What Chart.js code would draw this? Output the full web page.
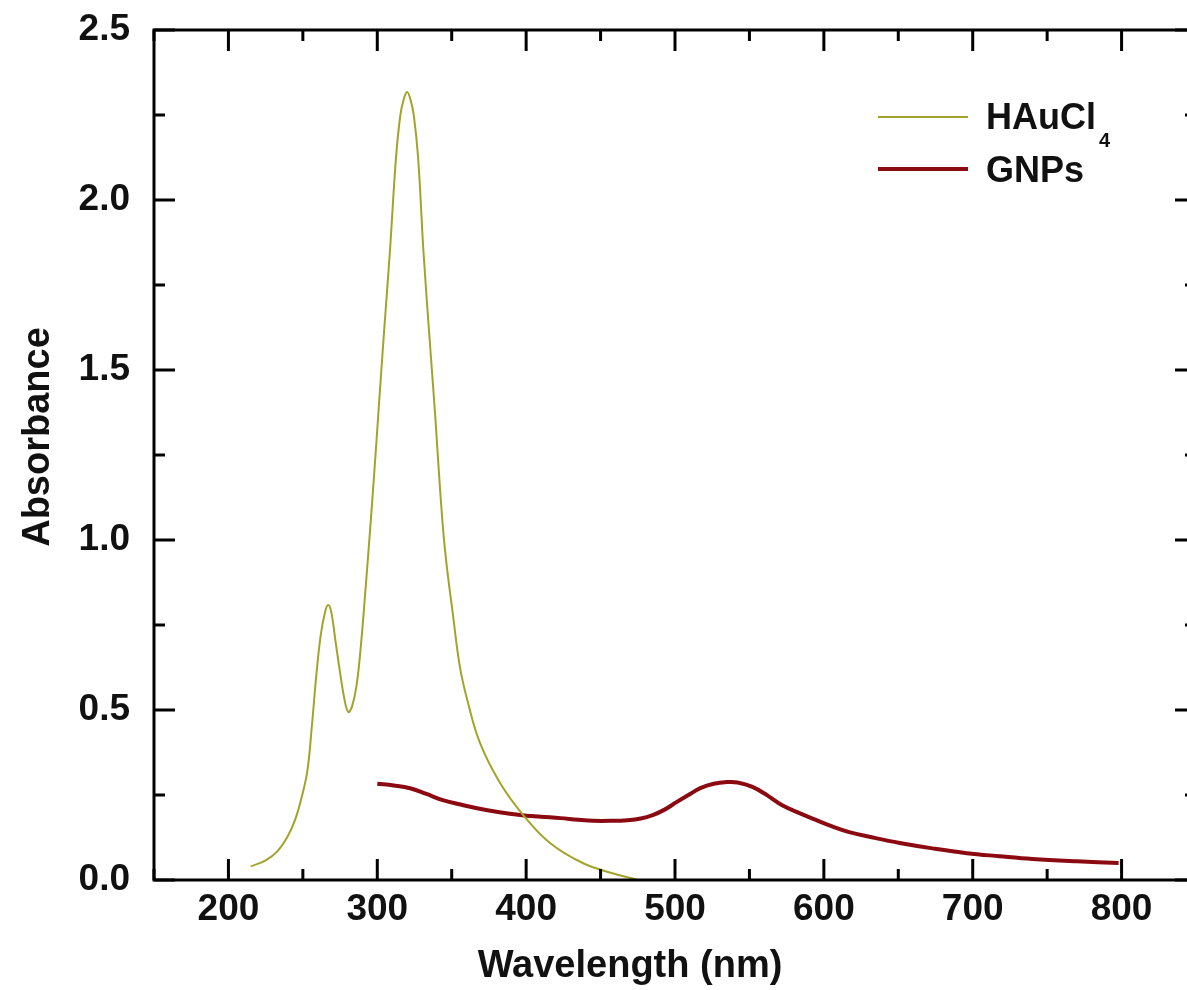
<!DOCTYPE html>
<html>
<head>
<meta charset="utf-8">
<script src="https://cdn.jsdelivr.net/npm/chart.js@4"></script>
<style>
  html, body { margin: 0; padding: 0; background: #fff; overflow: hidden; }
  #wrap { width: 1200px; height: 990px; }
</style>
</head>
<body>
<div id="wrap"><canvas id="spectrum" width="1200" height="990"></canvas></div>
<script>
// UV-vis spectra
const wavelengthHAuCl4 = [215, 225, 233, 240, 245, 249, 253, 256, 259, 262, 265, 267, 269, 272, 275, 278, 280.5, 283, 286, 289, 292, 295, 298, 301, 304.5, 308.5, 312.5, 315.5, 318, 320, 322, 324.5, 327.5, 331, 335, 339, 342, 345.5, 351, 355.5, 360.5, 369, 382.5, 398, 416, 438, 458, 475];
const absHAuCl4 = [0.040, 0.058, 0.085, 0.13, 0.18, 0.24, 0.32, 0.45, 0.60, 0.72, 0.79, 0.809, 0.79, 0.70, 0.61, 0.53, 0.494, 0.51, 0.57, 0.69, 0.85, 1.02, 1.20, 1.39, 1.61, 1.85, 2.12, 2.25, 2.30, 2.318, 2.30, 2.25, 2.12, 1.85, 1.60, 1.36, 1.16, 0.97, 0.774, 0.627, 0.529, 0.403, 0.285, 0.191, 0.109, 0.05, 0.02, 0.0];

const wavelengthGNPs = [300, 311, 322, 333, 344, 356, 367, 381, 396, 410, 423, 435, 445, 457, 468, 477, 485, 493, 501, 509, 517, 526, 535, 542, 552, 562, 572, 584, 595, 606, 617, 634, 651, 673, 696, 718, 740, 770, 798];
const absGNPs = [0.283, 0.278, 0.270, 0.253, 0.235, 0.222, 0.211, 0.200, 0.191, 0.186, 0.182, 0.177, 0.174, 0.174, 0.176, 0.181, 0.191, 0.207, 0.229, 0.250, 0.270, 0.283, 0.288, 0.287, 0.274, 0.249, 0.220, 0.196, 0.176, 0.157, 0.141, 0.124, 0.109, 0.093, 0.079, 0.070, 0.062, 0.055, 0.050];

const xTickLabels = [200, 300, 400, 500, 600, 700, 800];
const xMinorTicks = [150, 250, 350, 450, 550, 650, 750, 850];
const yTickLabels = [0, 0.5, 1.0, 1.5, 2.0, 2.5];
const yMinorTicks = [0.25, 0.75, 1.25, 1.75, 2.25];

const toPoints = (xs, ys) => xs.map((x, i) => ({ x: x, y: ys[i] }));

const colHAu = "#a3a32c";
const colGNP = "#8b0a12";
const fam = "'Liberation Sans', Arial, sans-serif";
const tickFont = { family: fam, size: 37, weight: "bold" };

// frame with inward ticks, axis titles and the legend
const framePlugin = {
  id: "frame",
  afterDraw(chart) {
    const ctx = chart.ctx;
    const a = chart.chartArea;
    const xs = chart.scales.x, ys = chart.scales.y;
    ctx.save();
    ctx.strokeStyle = "#000";
    ctx.lineWidth = 3;
    ctx.strokeRect(a.left, a.top, a.right - a.left, a.bottom - a.top);

    const tick = (x1, y1, x2, y2) => {
      ctx.beginPath(); ctx.moveTo(x1, y1); ctx.lineTo(x2, y2); ctx.stroke();
    };
    xTickLabels.forEach(v => {
      const p = xs.getPixelForValue(v);
      tick(p, a.bottom, p, a.bottom - 21);
      tick(p, a.top, p, a.top + 21);
    });
    xMinorTicks.forEach(v => {
      const p = xs.getPixelForValue(v);
      tick(p, a.bottom, p, a.bottom - 11);
      tick(p, a.top, p, a.top + 11);
    });
    yTickLabels.forEach(v => {
      const p = ys.getPixelForValue(v);
      tick(a.left, p, a.left + 21, p);
      tick(a.right, p, a.right - 21, p);
    });
    yMinorTicks.forEach(v => {
      const p = ys.getPixelForValue(v);
      tick(a.left, p, a.left + 11, p);
      tick(a.right, p, a.right - 11, p);
    });

    // axis titles
    ctx.fillStyle = "#111";
    ctx.font = "bold 38px " + fam;
    ctx.textAlign = "center";
    ctx.textBaseline = "middle";
    ctx.fillText("Wavelength (nm)", 630, 967);
    ctx.save();
    ctx.translate(39, 437);
    ctx.rotate(-Math.PI / 2);
    ctx.fillText("Absorbance", 0, 0);
    ctx.restore();

    // legend
    ctx.textAlign = "left";
    ctx.textBaseline = "alphabetic";
    ctx.lineWidth = 2;
    ctx.strokeStyle = colHAu;
    tick(878, 117, 968, 117);
    ctx.lineWidth = 4;
    ctx.strokeStyle = colGNP;
    tick(878, 169, 968, 169);
    ctx.font = "bold 36px " + fam;
    ctx.fillText("HAuCl", 986, 129);
    const w = ctx.measureText("HAuCl").width;
    ctx.font = "bold 20px " + fam;
    ctx.fillText("4", 986 + w + 3, 147);
    ctx.font = "bold 36px " + fam;
    ctx.fillText("GNPs", 986, 182);
    ctx.restore();
  }
};

new Chart(document.getElementById("spectrum"), {
  type: "line",
  data: {
    datasets: [
      {
        label: "HAuCl4",
        data: toPoints(wavelengthHAuCl4, absHAuCl4),
        borderColor: colHAu,
        borderWidth: 2,
        pointRadius: 0,
        tension: 0.4,
      },
      {
        label: "GNPs",
        data: toPoints(wavelengthGNPs, absGNPs),
        borderColor: colGNP,
        borderWidth: 4,
        pointRadius: 0,
        tension: 0.4,
      },
    ],
  },
  options: {
    responsive: false,
    animation: false,
    devicePixelRatio: 1,
    layout: {
      padding: { left: 0, top: 30, right: 4, bottom: 0 },
    },
    plugins: {
      legend: { display: false },
      tooltip: { enabled: false },
    },
    scales: {
      x: {
        type: "linear",
        min: 150,
        max: 850,
        grid: { display: false, drawTicks: false, tickLength: 0 },
        border: { display: false },
        afterBuildTicks: (s) => { s.ticks = xTickLabels.map(v => ({ value: v })); },
        afterFit: (s) => { s.height = 110; s.paddingLeft = 0; s.paddingRight = 0; },
        ticks: {
          padding: 8,
          color: "#111",
          font: tickFont,
          maxRotation: 0,
          autoSkip: false,
          callback: (v) => String(v),
        },
      },
      y: {
        min: 0,
        max: 2.5,
        grid: { display: false, drawTicks: false, tickLength: 0 },
        border: { display: false },
        afterBuildTicks: (s) => { s.ticks = yTickLabels.map(v => ({ value: v })); },
        afterFit: (s) => { s.width = 154; s.paddingTop = 0; s.paddingBottom = 0; },
        ticks: {
          padding: 24,
          color: "#111",
          font: tickFont,
          autoSkip: false,
          callback: (v) => Number(v).toFixed(1),
        },
      },
    },
  },
  plugins: [framePlugin],
});
</script>
</body>
</html>
